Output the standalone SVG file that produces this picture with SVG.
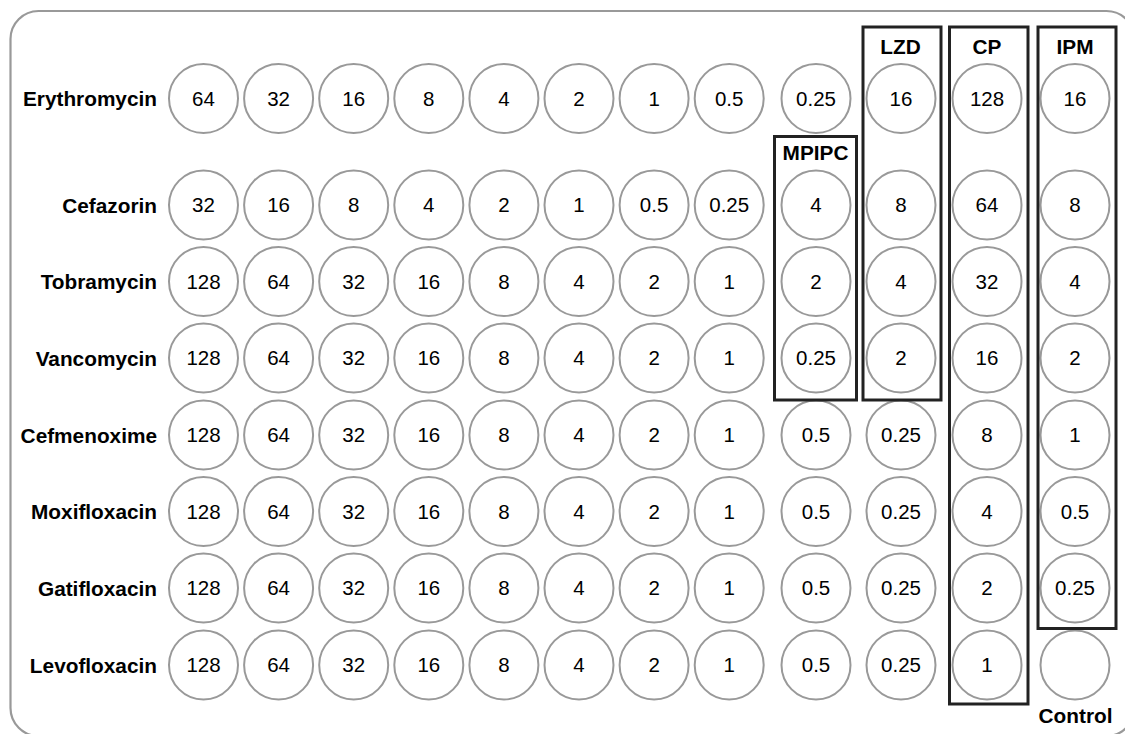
<svg xmlns="http://www.w3.org/2000/svg" width="1125" height="734" viewBox="0 0 1125 734">
<style>
.plate{fill:#fff;stroke:#999;stroke-width:2.2}
.well{fill:#fff;stroke:#999;stroke-width:2}
.num{font-family:"Liberation Sans",Arial,sans-serif;font-size:20.5px;fill:#000;text-anchor:middle}
.lbl{font-family:"Liberation Sans",Arial,sans-serif;font-size:20.8px;font-weight:bold;fill:#000}
.row{text-anchor:end}
.hd{text-anchor:middle}
.box{fill:none;stroke:#222;stroke-width:3}
</style>
<rect width="1125" height="734" fill="#fff"/>
<rect class="plate" x="10.5" y="11" width="1124" height="725" rx="28"/>
<g id="row-labels">
<text class="lbl row" x="157" y="106">Erythromycin</text>
<text class="lbl row" x="157" y="212.5">Cefazorin</text>
<text class="lbl row" x="157" y="289">Tobramycin</text>
<text class="lbl row" x="157" y="365.5">Vancomycin</text>
<text class="lbl row" x="157" y="442.5">Cefmenoxime</text>
<text class="lbl row" x="157" y="519">Moxifloxacin</text>
<text class="lbl row" x="157" y="595.5">Gatifloxacin</text>
<text class="lbl row" x="157" y="672.5">Levofloxacin</text>
</g>
<g id="wells">
<g id="r1">
<circle class="well" cx="203.5" cy="98.5" r="34.5"/><text class="num" x="203.5" y="105.5">64</text>
<circle class="well" cx="278.6" cy="98.5" r="34.5"/><text class="num" x="278.6" y="105.5">32</text>
<circle class="well" cx="353.7" cy="98.5" r="34.5"/><text class="num" x="353.7" y="105.5">16</text>
<circle class="well" cx="428.8" cy="98.5" r="34.5"/><text class="num" x="428.8" y="105.5">8</text>
<circle class="well" cx="503.9" cy="98.5" r="34.5"/><text class="num" x="503.9" y="105.5">4</text>
<circle class="well" cx="579" cy="98.5" r="34.5"/><text class="num" x="579" y="105.5">2</text>
<circle class="well" cx="654.1" cy="98.5" r="34.5"/><text class="num" x="654.1" y="105.5">1</text>
<circle class="well" cx="729.2" cy="98.5" r="34.5"/><text class="num" x="729.2" y="105.5">0.5</text>
<circle class="well" cx="816" cy="98.5" r="34.5"/><text class="num" x="816" y="105.5">0.25</text>
<circle class="well" cx="901" cy="98.5" r="34.5"/><text class="num" x="901" y="105.5">16</text>
<circle class="well" cx="987" cy="98.5" r="34.5"/><text class="num" x="987" y="105.5">128</text>
<circle class="well" cx="1075" cy="98.5" r="34.5"/><text class="num" x="1075" y="105.5">16</text>
</g>
<g id="r2">
<circle class="well" cx="203.5" cy="205" r="34.5"/><text class="num" x="203.5" y="212">32</text>
<circle class="well" cx="278.6" cy="205" r="34.5"/><text class="num" x="278.6" y="212">16</text>
<circle class="well" cx="353.7" cy="205" r="34.5"/><text class="num" x="353.7" y="212">8</text>
<circle class="well" cx="428.8" cy="205" r="34.5"/><text class="num" x="428.8" y="212">4</text>
<circle class="well" cx="503.9" cy="205" r="34.5"/><text class="num" x="503.9" y="212">2</text>
<circle class="well" cx="579" cy="205" r="34.5"/><text class="num" x="579" y="212">1</text>
<circle class="well" cx="654.1" cy="205" r="34.5"/><text class="num" x="654.1" y="212">0.5</text>
<circle class="well" cx="729.2" cy="205" r="34.5"/><text class="num" x="729.2" y="212">0.25</text>
<circle class="well" cx="816" cy="205" r="34.5"/><text class="num" x="816" y="212">4</text>
<circle class="well" cx="901" cy="205" r="34.5"/><text class="num" x="901" y="212">8</text>
<circle class="well" cx="987" cy="205" r="34.5"/><text class="num" x="987" y="212">64</text>
<circle class="well" cx="1075" cy="205" r="34.5"/><text class="num" x="1075" y="212">8</text>
</g>
<g id="r3">
<circle class="well" cx="203.5" cy="281.5" r="34.5"/><text class="num" x="203.5" y="288.5">128</text>
<circle class="well" cx="278.6" cy="281.5" r="34.5"/><text class="num" x="278.6" y="288.5">64</text>
<circle class="well" cx="353.7" cy="281.5" r="34.5"/><text class="num" x="353.7" y="288.5">32</text>
<circle class="well" cx="428.8" cy="281.5" r="34.5"/><text class="num" x="428.8" y="288.5">16</text>
<circle class="well" cx="503.9" cy="281.5" r="34.5"/><text class="num" x="503.9" y="288.5">8</text>
<circle class="well" cx="579" cy="281.5" r="34.5"/><text class="num" x="579" y="288.5">4</text>
<circle class="well" cx="654.1" cy="281.5" r="34.5"/><text class="num" x="654.1" y="288.5">2</text>
<circle class="well" cx="729.2" cy="281.5" r="34.5"/><text class="num" x="729.2" y="288.5">1</text>
<circle class="well" cx="816" cy="281.5" r="34.5"/><text class="num" x="816" y="288.5">2</text>
<circle class="well" cx="901" cy="281.5" r="34.5"/><text class="num" x="901" y="288.5">4</text>
<circle class="well" cx="987" cy="281.5" r="34.5"/><text class="num" x="987" y="288.5">32</text>
<circle class="well" cx="1075" cy="281.5" r="34.5"/><text class="num" x="1075" y="288.5">4</text>
</g>
<g id="r4">
<circle class="well" cx="203.5" cy="358" r="34.5"/><text class="num" x="203.5" y="365">128</text>
<circle class="well" cx="278.6" cy="358" r="34.5"/><text class="num" x="278.6" y="365">64</text>
<circle class="well" cx="353.7" cy="358" r="34.5"/><text class="num" x="353.7" y="365">32</text>
<circle class="well" cx="428.8" cy="358" r="34.5"/><text class="num" x="428.8" y="365">16</text>
<circle class="well" cx="503.9" cy="358" r="34.5"/><text class="num" x="503.9" y="365">8</text>
<circle class="well" cx="579" cy="358" r="34.5"/><text class="num" x="579" y="365">4</text>
<circle class="well" cx="654.1" cy="358" r="34.5"/><text class="num" x="654.1" y="365">2</text>
<circle class="well" cx="729.2" cy="358" r="34.5"/><text class="num" x="729.2" y="365">1</text>
<circle class="well" cx="816" cy="358" r="34.5"/><text class="num" x="816" y="365">0.25</text>
<circle class="well" cx="901" cy="358" r="34.5"/><text class="num" x="901" y="365">2</text>
<circle class="well" cx="987" cy="358" r="34.5"/><text class="num" x="987" y="365">16</text>
<circle class="well" cx="1075" cy="358" r="34.5"/><text class="num" x="1075" y="365">2</text>
</g>
<g id="r5">
<circle class="well" cx="203.5" cy="435" r="34.5"/><text class="num" x="203.5" y="442">128</text>
<circle class="well" cx="278.6" cy="435" r="34.5"/><text class="num" x="278.6" y="442">64</text>
<circle class="well" cx="353.7" cy="435" r="34.5"/><text class="num" x="353.7" y="442">32</text>
<circle class="well" cx="428.8" cy="435" r="34.5"/><text class="num" x="428.8" y="442">16</text>
<circle class="well" cx="503.9" cy="435" r="34.5"/><text class="num" x="503.9" y="442">8</text>
<circle class="well" cx="579" cy="435" r="34.5"/><text class="num" x="579" y="442">4</text>
<circle class="well" cx="654.1" cy="435" r="34.5"/><text class="num" x="654.1" y="442">2</text>
<circle class="well" cx="729.2" cy="435" r="34.5"/><text class="num" x="729.2" y="442">1</text>
<circle class="well" cx="816" cy="435" r="34.5"/><text class="num" x="816" y="442">0.5</text>
<circle class="well" cx="901" cy="435" r="34.5"/><text class="num" x="901" y="442">0.25</text>
<circle class="well" cx="987" cy="435" r="34.5"/><text class="num" x="987" y="442">8</text>
<circle class="well" cx="1075" cy="435" r="34.5"/><text class="num" x="1075" y="442">1</text>
</g>
<g id="r6">
<circle class="well" cx="203.5" cy="511.5" r="34.5"/><text class="num" x="203.5" y="518.5">128</text>
<circle class="well" cx="278.6" cy="511.5" r="34.5"/><text class="num" x="278.6" y="518.5">64</text>
<circle class="well" cx="353.7" cy="511.5" r="34.5"/><text class="num" x="353.7" y="518.5">32</text>
<circle class="well" cx="428.8" cy="511.5" r="34.5"/><text class="num" x="428.8" y="518.5">16</text>
<circle class="well" cx="503.9" cy="511.5" r="34.5"/><text class="num" x="503.9" y="518.5">8</text>
<circle class="well" cx="579" cy="511.5" r="34.5"/><text class="num" x="579" y="518.5">4</text>
<circle class="well" cx="654.1" cy="511.5" r="34.5"/><text class="num" x="654.1" y="518.5">2</text>
<circle class="well" cx="729.2" cy="511.5" r="34.5"/><text class="num" x="729.2" y="518.5">1</text>
<circle class="well" cx="816" cy="511.5" r="34.5"/><text class="num" x="816" y="518.5">0.5</text>
<circle class="well" cx="901" cy="511.5" r="34.5"/><text class="num" x="901" y="518.5">0.25</text>
<circle class="well" cx="987" cy="511.5" r="34.5"/><text class="num" x="987" y="518.5">4</text>
<circle class="well" cx="1075" cy="511.5" r="34.5"/><text class="num" x="1075" y="518.5">0.5</text>
</g>
<g id="r7">
<circle class="well" cx="203.5" cy="588" r="34.5"/><text class="num" x="203.5" y="595">128</text>
<circle class="well" cx="278.6" cy="588" r="34.5"/><text class="num" x="278.6" y="595">64</text>
<circle class="well" cx="353.7" cy="588" r="34.5"/><text class="num" x="353.7" y="595">32</text>
<circle class="well" cx="428.8" cy="588" r="34.5"/><text class="num" x="428.8" y="595">16</text>
<circle class="well" cx="503.9" cy="588" r="34.5"/><text class="num" x="503.9" y="595">8</text>
<circle class="well" cx="579" cy="588" r="34.5"/><text class="num" x="579" y="595">4</text>
<circle class="well" cx="654.1" cy="588" r="34.5"/><text class="num" x="654.1" y="595">2</text>
<circle class="well" cx="729.2" cy="588" r="34.5"/><text class="num" x="729.2" y="595">1</text>
<circle class="well" cx="816" cy="588" r="34.5"/><text class="num" x="816" y="595">0.5</text>
<circle class="well" cx="901" cy="588" r="34.5"/><text class="num" x="901" y="595">0.25</text>
<circle class="well" cx="987" cy="588" r="34.5"/><text class="num" x="987" y="595">2</text>
<circle class="well" cx="1075" cy="588" r="34.5"/><text class="num" x="1075" y="595">0.25</text>
</g>
<g id="r8">
<circle class="well" cx="203.5" cy="665" r="34.5"/><text class="num" x="203.5" y="672">128</text>
<circle class="well" cx="278.6" cy="665" r="34.5"/><text class="num" x="278.6" y="672">64</text>
<circle class="well" cx="353.7" cy="665" r="34.5"/><text class="num" x="353.7" y="672">32</text>
<circle class="well" cx="428.8" cy="665" r="34.5"/><text class="num" x="428.8" y="672">16</text>
<circle class="well" cx="503.9" cy="665" r="34.5"/><text class="num" x="503.9" y="672">8</text>
<circle class="well" cx="579" cy="665" r="34.5"/><text class="num" x="579" y="672">4</text>
<circle class="well" cx="654.1" cy="665" r="34.5"/><text class="num" x="654.1" y="672">2</text>
<circle class="well" cx="729.2" cy="665" r="34.5"/><text class="num" x="729.2" y="672">1</text>
<circle class="well" cx="816" cy="665" r="34.5"/><text class="num" x="816" y="672">0.5</text>
<circle class="well" cx="901" cy="665" r="34.5"/><text class="num" x="901" y="672">0.25</text>
<circle class="well" cx="987" cy="665" r="34.5"/><text class="num" x="987" y="672">1</text>
<circle class="well" cx="1075" cy="665" r="34.5"/>
</g>
</g>
<g id="box-MPIPC">
<rect class="box" x="774.5" y="136.5" width="82" height="263.5"/>
<text class="lbl hd" x="815.5" y="160">MPIPC</text>
</g>
<g id="box-LZD">
<rect class="box" x="863" y="27" width="78" height="373"/>
<text class="lbl hd" x="900.5" y="53.5">LZD</text>
</g>
<g id="box-CP">
<rect class="box" x="949.5" y="27" width="78.5" height="677"/>
<text class="lbl hd" x="987" y="53.5">CP</text>
</g>
<g id="box-IPM">
<rect class="box" x="1038" y="27" width="78" height="601.5"/>
<text class="lbl hd" x="1075" y="53.5">IPM</text>
</g>
<g id="control-label">
<text class="lbl hd" x="1075.5" y="722.5">Control</text>
</g>
</svg>
